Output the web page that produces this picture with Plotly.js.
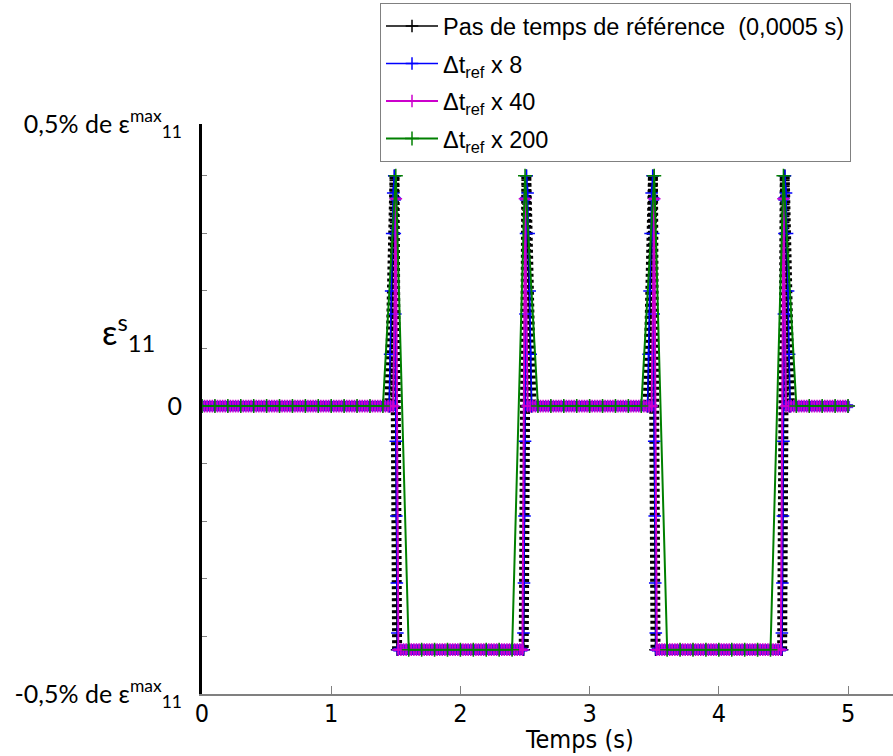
<!DOCTYPE html>
<html>
<head>
<meta charset="utf-8">
<script src="https://cdn.plot.ly/plotly-3.0.1.min.js"></script>
<style>html,body{margin:0;padding:0;background:#fff;}#chart{width:893px;height:756px;}</style>
</head>
<body>
<div id="chart"></div>
<script>
// ---- data (y in units of 0.1 % of eps11max) ----
const seriesNames = [
  'Pas de temps de référence  (0,0005 s)',
  'Δt<sub>ref</sub> x 8',
  'Δt<sub>ref</sub> x 40',
  'Δt<sub>ref</sub> x 200'
];

// reference step (0.0005 s): break points of the curve
const blackT = [0, 1.45, 1.49, 1.51, 2.49, 2.51, 2.55, 3.45, 3.49, 3.51, 4.49, 4.51, 4.55, 5];
const blackV = [0, 0, 4.0, -4.23, -4.23, 4.0, 0, 0, 4.0, -4.23, -4.23, 4.0, 0, 0];

// dt x 8 (0.004 s): break points
const blueT = [0,
  1.448,1.456,1.464,1.472,1.48,1.488,1.492,1.496,1.5,1.504,1.508,1.512,1.516,
  2.484,2.488,2.492,2.496,2.5,2.504,2.508,2.512,2.52,2.528,2.536,2.544,2.552,
  3.448,3.456,3.464,3.472,3.48,3.488,3.492,3.496,3.5,3.504,3.508,3.512,3.516,
  4.484,4.488,4.492,4.496,4.5,4.504,4.508,4.512,4.52,4.528,4.536,4.544,4.552,
  5];
const blueV = [0,
  0,0.9,2.0,3.0,3.7,4.0,3.0,1.6,-0.61,-1.91,-3.07,-3.94,-4.23,
  -4.23,-3.94,-3.07,-1.91,-0.61,1.6,3.0,4.0,3.7,3.0,2.0,0.9,0,
  0,0.9,2.0,3.0,3.7,4.0,3.0,1.6,-0.61,-1.91,-3.07,-3.94,-4.23,
  -4.23,-3.94,-3.07,-1.91,-0.61,1.6,3.0,4.0,3.7,3.0,2.0,0.9,0,
  0];

// dt x 40 (0.02 s): every sample, t = 0, 0.02, ... 5
const magentaDt = 0.02;
const magentaV = [
  0,0,0,0,0, 0,0,0,0,0, 0,0,0,0,0, 0,0,0,0,0, 0,0,0,0,0,
  0,0,0,0,0, 0,0,0,0,0, 0,0,0,0,0, 0,0,0,0,0, 0,0,0,0,0,
  0,0,0,0,0, 0,0,0,0,0, 0,0,0,0,0, 0,0,0,0,0, 0,0,0,0,0,
  3.6,-4.23,-4.23,-4.23,-4.23, -4.23,-4.23,-4.23,-4.23,-4.23, -4.23,-4.23,-4.23,-4.23,-4.23, -4.23,-4.23,-4.23,-4.23,-4.23, -4.23,-4.23,-4.23,-4.23,-4.23,
  -4.23,-4.23,-4.23,-4.23,-4.23, -4.23,-4.23,-4.23,-4.23,-4.23, -4.23,-4.23,-4.23,-4.23,-4.23, -4.23,-4.23,-4.23,-4.23,-4.23, -4.23,-4.23,-4.23,-4.23,-4.23,
  3.6,0,0,0,0, 0,0,0,0,0, 0,0,0,0,0, 0,0,0,0,0, 0,0,0,0,0,
  0,0,0,0,0, 0,0,0,0,0, 0,0,0,0,0, 0,0,0,0,0, 0,0,0,0,0,
  3.6,-4.23,-4.23,-4.23,-4.23, -4.23,-4.23,-4.23,-4.23,-4.23, -4.23,-4.23,-4.23,-4.23,-4.23, -4.23,-4.23,-4.23,-4.23,-4.23, -4.23,-4.23,-4.23,-4.23,-4.23,
  -4.23,-4.23,-4.23,-4.23,-4.23, -4.23,-4.23,-4.23,-4.23,-4.23, -4.23,-4.23,-4.23,-4.23,-4.23, -4.23,-4.23,-4.23,-4.23,-4.23, -4.23,-4.23,-4.23,-4.23,-4.23,
  3.6,0,0,0,0, 0,0,0,0,0, 0,0,0,0,0, 0,0,0,0,0, 0,0,0,0,0,
  0
];

// dt x 200 (0.1 s): every sample, t = 0, 0.1, ... 5
const greenDt = 0.1;
const greenV = [
  0,0,0,0,0, 0,0,0,0,0,
  0,0,0,0,0, 4.0,-4.23,-4.23,-4.23,-4.23,
  -4.23,-4.23,-4.23,-4.23,-4.23, 4.0,0,0,0,0,
  0,0,0,0,0, 4.0,-4.23,-4.23,-4.23,-4.23,
  -4.23,-4.23,-4.23,-4.23,-4.23, 4.0,0,0,0,0,
  0
];

const xTicks = [0, 1, 2, 3, 4, 5];
const yTickVals = [-5, 0, 4.9];
const yTickText = ['-0,5% de ε<sup>max</sup><sub>11</sub>', '0', '0,5% de ε<sup>max</sup><sub>11</sub>'];
const yMinorTicks = [-4, -3, -2, -1, 1, 2, 3, 4];

// ---- styles ----
const cBlack = '#000000', cBlue = '#0000ff', cMag = '#cc00cc', cGreen = '#008000';
const narrow = 'Liberation Sans Narrow, Arial Narrow, DejaVu Sans Condensed, sans-serif';
function plus(color, size) {
  return {symbol: 'cross-thin-open', size: size, color: color, line: {width: 1.5, color: color}};
}

const traces = [
  // dense "+" markers of the reference series appear as a hatched band
  {x: blackT, y: blackV, mode: 'lines', line: {color: cBlack, width: 10, dash: '3px,3px'},
   showlegend: false, legendgroup: 'g0', hoverinfo: 'skip'},
  {x: blackT, y: blackV, mode: 'lines+markers', name: seriesNames[0], legendgroup: 'g0',
   line: {color: cBlack, width: 1.5}, marker: plus(cBlack, 9)},
  {x: blueT, y: blueV, mode: 'lines+markers', name: seriesNames[1], legendgroup: 'g1',
   line: {color: cBlue, width: 1.5}, marker: plus(cBlue, 9)},
  {y: magentaV, x0: 0, dx: magentaDt, mode: 'markers', showlegend: false, legendgroup: 'g2', hoverinfo: 'skip',
   marker: {symbol: 'cross', size: 8, color: cMag, line: {width: 0.6, color: cBlue}}},
  {y: magentaV, x0: 0, dx: magentaDt, mode: 'lines+markers', name: seriesNames[2], legendgroup: 'g2',
   line: {color: cMag, width: 2}, marker: plus(cMag, 9)},
  {y: greenV, x0: 0, dx: greenDt, mode: 'lines+markers', name: seriesNames[3], legendgroup: 'g3',
   line: {color: cGreen, width: 2}, marker: plus(cGreen, 10)}
];

const layout = {
  width: 893, height: 756,
  margin: {l: 202, r: 0, t: 124, b: 62, pad: 0},
  paper_bgcolor: '#ffffff', plot_bgcolor: '#ffffff',
  showlegend: true,
  legend: {
    x: 0.2576, y: 1.212, xanchor: 'left', yanchor: 'top',
    bgcolor: '#ffffff', bordercolor: '#808080', borderwidth: 1,
    font: {family: 'Liberation Sans, Arial, sans-serif', size: 23.5, color: '#000'},
    itemwidth: 52, traceorder: 'grouped', tracegroupgap: 4
  },
  xaxis: {
    range: [0, 5.348], tickmode: 'array', tickvals: xTicks,
    ticks: 'inside', ticklen: 8, tickwidth: 1, tickcolor: '#808080',
    showline: true, linecolor: '#808080', linewidth: 2,
    showgrid: false, zeroline: false,
    tickfont: {family: narrow, size: 25, color: '#000'},
    ticklabelstandoff: -4
  },
  yaxis: {
    range: [-5, 4.9], tickmode: 'array', tickvals: yTickVals, ticktext: yTickText,
    ticks: '', showline: true, linecolor: '#000000', linewidth: 3,
    showgrid: false, zeroline: false,
    minor: {tickmode: 'array', tickvals: yMinorTicks, ticks: 'inside', ticklen: 5, tickwidth: 1, tickcolor: '#808080', showgrid: false},
    tickfont: {family: 'Lato, Open Sans, sans-serif', size: 25, color: '#000'},
    ticklabelstandoff: 12
  },
  annotations: [
    {text: 'ε<sup>s</sup><sub>11</sub>', xref: 'paper', yref: 'paper',
     x: -0.148, y: 0.635, xanchor: 'left', yanchor: 'middle', showarrow: false,
     font: {family: 'Lato, Open Sans, sans-serif', size: 34, color: '#000'}},
    {text: 'Temps (s)', xref: 'paper', yref: 'paper',
     x: 0.5456, y: -0.0807, xanchor: 'center', yanchor: 'middle', showarrow: false,
     font: {family: narrow, size: 25, color: '#000'}}
  ]
};

Plotly.newPlot('chart', traces, layout, {staticPlot: true, displayModeBar: false});
</script>
</body>
</html>
